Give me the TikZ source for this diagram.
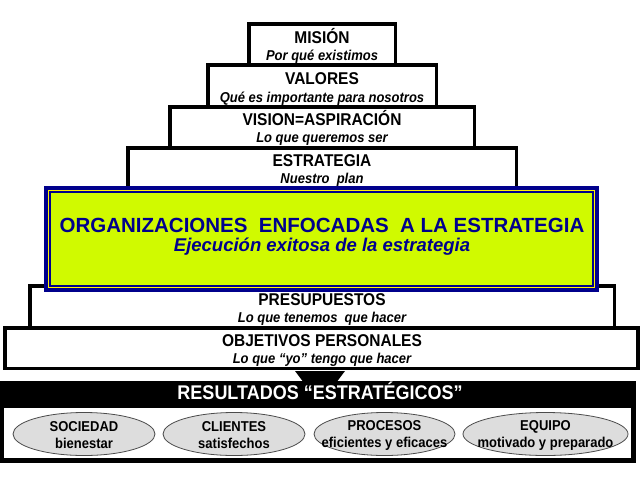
\documentclass[tikz,border=0pt]{standalone}
\usepackage{fontspec}
\usepackage{graphicx}
\setmainfont{Liberation Sans}
\usetikzlibrary{shapes.geometric}
\definecolor{navy}{RGB}{0,0,140}
\definecolor{lime}{RGB}{208,250,0}
\definecolor{ellgray}{RGB}{221,221,221}
\newcommand{\tallt}[1]{\scalebox{1}[1.1]{#1}}
\begin{document}
\begin{tikzpicture}[x=1pt,y=-1pt,
  tier/.style={draw=black, line width=3.5pt, fill=white},
  ttl/.style={anchor=base, font=\fontsize{15.5}{18}\selectfont\bfseries, inner sep=0pt},
  sub/.style={anchor=base, font=\fontsize{13}{15}\selectfont\bfseries\itshape, inner sep=0pt},
  ell/.style={ellipse, draw=black!70, fill=ellgray, line width=0.8pt, minimum height=43pt, inner sep=0pt},
  elltxt/.style={align=center, font=\fontsize{13}{17}\selectfont\bfseries, inner sep=0pt}]
\useasboundingbox (0,0) rectangle (640,480);
\fill[white] (0,0) rectangle (640,480);
% pyramid tiers
\draw[tier] (248.75,23.75) rectangle (395.25,64.75);
\draw[tier] (207.75,64.75) rectangle (436.25,106.75);
\draw[tier] (169.75,106.75) rectangle (474.25,147.75);
\draw[tier] (127.75,147.75) rectangle (516.25,190);
\draw[tier] (29.75,285.75) rectangle (614.25,327.75);
% focus box
\fill[navy] (44,186) rectangle (599,292);
\fill[yellow] (48,190) rectangle (595,288);
\fill[navy] (49.3,191.3) rectangle (593.7,286.7);
\fill[lime] (50.6,192.6) rectangle (592.4,285.4);
\draw[tier] (4.75,327.75) rectangle (637.75,368.25);
% texts
\node[ttl] (mision) at (322,43.5) {\tallt{MISIÓN}};
\node[sub] (misionS) at (322,60) {\tallt{Por qué existimos}};
\node[ttl] (valores) at (322,84.5) {\tallt{VALORES}};
\node[sub] (valoresS) at (322,102) {\tallt{Qué es importante para nosotros}};
\node[ttl] (vision) at (322,125.5) {\tallt{VISION=ASPIRACIÓN}};
\node[sub] (visionS) at (322,142) {\tallt{Lo que queremos ser}};
\node[ttl] (estr) at (322,166.5) {\tallt{ESTRATEGIA}};
\node[sub] (estrS) at (322,183) {\tallt{Nuestro\ \ plan}};
\node[anchor=base, text=navy, font=\fontsize{20.5}{22}\selectfont\bfseries, inner sep=0pt] (org) at (322,232.5)
  {ORGANIZACIONES\ \ ENFOCADAS\ \ A LA ESTRATEGIA};
\node[anchor=base, text=navy, font=\fontsize{18.5}{20}\selectfont\bfseries\itshape, inner sep=0pt] (ejec) at (322,251.5)
  {Ejecución exitosa de la estrategia};
\node[ttl] (pres) at (322,305.5) {\tallt{PRESUPUESTOS}};
\node[sub] (presS) at (322,322) {\tallt{Lo que tenemos\ \ que hacer}};
\node[ttl] (obj) at (322,346.5) {\tallt{OBJETIVOS PERSONALES}};
\node[sub] (objS) at (322,363) {\tallt{Lo que “yo” tengo que hacer}};
% results
\fill[black] (295,371) -- (345,371) -- (320,404) -- cycle;
\fill[black] (0,381) rectangle (636,463);
\fill[white] (4,408) rectangle (631,458);
\node[anchor=base, text=white, font=\fontsize{18}{20}\selectfont\bfseries, inner sep=0pt] (res) at (320,399.5)
  {\tallt{RESULTADOS “ESTRATÉGICOS”}};
\node[ell, minimum width=142pt] (e1) at (84,434) {};
\node[ell, minimum width=142pt] (e2) at (234,434) {};
\node[ell, minimum width=141pt] (e3) at (384.5,434) {};
\node[ell, minimum width=165pt] (e4) at (545.5,434) {};
\node[elltxt] (t1) at (84,435) {\tallt{SOCIEDAD}\\\tallt{bienestar}};
\node[elltxt] (t2) at (234,435) {\tallt{CLIENTES}\\\tallt{satisfechos}};
\node[elltxt] (t3) at (384.5,435) {\tallt{PROCESOS}\\\tallt{eficientes y eficaces}};
\node[elltxt] (t4) at (545.5,435) {\tallt{EQUIPO}\\\tallt{motivado y preparado}};
\end{tikzpicture}
\end{document}
